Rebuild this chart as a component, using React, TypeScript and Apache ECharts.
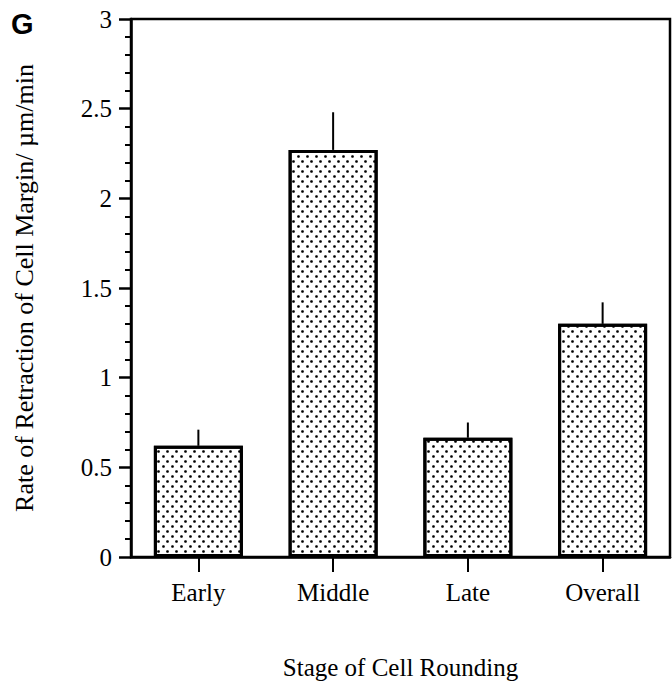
import React, { useEffect, useRef } from "react";
import * as echarts from "echarts";

const categories = ["Early", "Middle", "Late", "Overall"];
const rates = [0.62, 2.27, 0.665, 1.3];
const errorTops = [0.71, 2.48, 0.75, 1.42];
const yTicks = { min: 0, max: 3, interval: 0.5 };
const yName = "Rate of Retraction of Cell Margin/ µm/min";
const xName = "Stage of Cell Rounding";
const panelLabel = "G";

const serif = "Liberation Serif";

export default function App() {
  const ref = useRef<HTMLDivElement>(null);
  useEffect(() => {
    if (!ref.current) return;
    const chart = echarts.init(ref.current, null, { renderer: "svg" });
    const errData = categories.map((c, i) => [i, rates[i], errorTops[i]]);
    chart.setOption({
      animation: false,
      backgroundColor: "#fff",
      grid: {
        left: 131,
        right: 2,
        top: 19,
        bottom: 133,
        show: true,
        borderColor: "#000",
        borderWidth: 2.5,
        containLabel: false,
      },
      graphic: [
        {
          type: "text",
          left: 11,
          top: 9,
          style: {
            text: panelLabel,
            font: "bold 29px 'Liberation Sans'",
            fill: "#000",
          },
        },
      ],
      xAxis: {
        type: "category",
        data: categories,
        name: xName,
        nameLocation: "middle",
        nameGap: 98,
        nameTextStyle: { fontFamily: serif, fontSize: 25, color: "#000" },
        axisLine: { lineStyle: { color: "#000", width: 2.5 } },
        axisTick: {
          show: true,
          alignWithLabel: true,
          length: 15,
          lineStyle: { color: "#000", width: 2 },
        },
        axisLabel: {
          fontFamily: serif,
          fontSize: 25,
          color: "#000",
          margin: 23,
        },
      },
      yAxis: {
        type: "value",
        min: yTicks.min,
        max: yTicks.max,
        interval: yTicks.interval,
        name: yName,
        nameLocation: "middle",
        nameGap: 94,
        nameTextStyle: { fontFamily: serif, fontSize: 26, color: "#000" },
        axisLine: { show: true, lineStyle: { color: "#000", width: 2.5 } },
        axisTick: {
          show: true,
          length: 12,
          lineStyle: { color: "#000", width: 2.5 },
        },
        minorTick: {
          show: true,
          splitNumber: 5,
          length: 6,
          lineStyle: { color: "#000", width: 2 },
        },
        splitLine: { show: false },
        axisLabel: {
          fontFamily: serif,
          fontSize: 25,
          color: "#000",
          margin: 19,
        },
      },
      series: [
        {
          type: "bar",
          data: rates,
          barWidth: 89,
          itemStyle: {
            color: "#fff",
            borderColor: "#000",
            borderWidth: 3,
            decal: {
              symbol: "circle",
              symbolSize: 0.9,
              color: "#000",
              dashArrayX: [
                [3, 6],
                [0, 4, 3, 2],
              ],
              dashArrayY: [3, 1.5],
              rotation: 0,
            },
          },
        },
        {
          type: "custom",
          data: errData,
          z: 5,
          renderItem: (params: any, api: any) => {
            const x = api.value(0);
            const p1 = api.coord([x, api.value(1)]);
            const p2 = api.coord([x, api.value(2)]);
            return {
              type: "line",
              shape: { x1: p1[0], y1: p1[1], x2: p2[0], y2: p2[1] },
              style: { stroke: "#000", lineWidth: 2 },
            };
          },
        },
      ],
    });
    return () => chart.dispose();
  }, []);
  return (
    <div
      ref={ref}
      style={{ position: "fixed", left: 0, top: 0, width: 672, height: 690 }}
    />
  );
}
